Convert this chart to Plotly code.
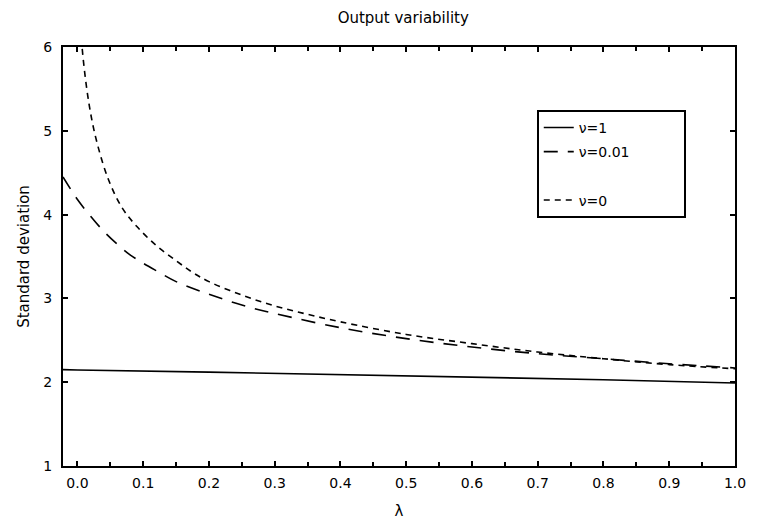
import plotly.graph_objects as go

# Data
lam_nu1 = [-0.022, 0.0, 0.2, 0.4, 0.6, 0.8, 1.0]
sd_nu1 = [2.15, 2.145, 2.12, 2.09, 2.06, 2.03, 1.99]

lam_nu001 = [-0.022, 0.0, 0.02, 0.04, 0.06, 0.08, 0.1, 0.12, 0.15, 0.2, 0.25, 0.3,
             0.4, 0.5, 0.6, 0.7, 0.8, 0.9, 1.0]
sd_nu001 = [4.45, 4.18, 3.98, 3.8, 3.65, 3.52, 3.42, 3.33, 3.2, 3.05, 2.92, 2.82,
            2.65, 2.52, 2.42, 2.34, 2.28, 2.22, 2.17]

lam_nu0 = [0.004, 0.007, 0.018, 0.03, 0.048, 0.068, 0.09, 0.12, 0.15, 0.175, 0.2,
           0.25, 0.3, 0.35, 0.4, 0.5, 0.6, 0.7, 0.8, 0.9, 1.0]
sd_nu0 = [6.5, 6.0, 5.3, 4.85, 4.4, 4.08, 3.86, 3.63, 3.45, 3.31, 3.2,
          3.04, 2.91, 2.81, 2.72, 2.57, 2.46, 2.36, 2.28, 2.21, 2.16]

x_ticks = [0.0, 0.1, 0.2, 0.3, 0.4, 0.5, 0.6, 0.7, 0.8, 0.9, 1.0]
x_tick_labels = ["0.0", "0.1", "0.2", "0.3", "0.4", "0.5", "0.6", "0.7", "0.8", "0.9", "1.0"]
y_ticks = [1, 2, 3, 4, 5, 6]

font = "DejaVu Sans"
pad = "\u00a0" * 11

fig = go.Figure()
fig.add_trace(go.Scatter(x=lam_nu1, y=sd_nu1, mode="lines", name="ν=1", legendgroup="a",
                         line=dict(color="black", width=1.6, dash="solid")))
fig.add_trace(go.Scatter(x=lam_nu001, y=sd_nu001, mode="lines", name="ν=0.01" + pad,
                         legendgroup="b", line_shape="spline",
                         line=dict(color="black", width=1.6, dash="14px,10px")))
fig.add_trace(go.Scatter(x=[None], y=[None], mode="lines", name=" ", legendgroup="c",
                         line=dict(color="rgba(0,0,0,0)", width=0)))
fig.add_trace(go.Scatter(x=lam_nu0, y=sd_nu0, mode="lines", name="ν=0", legendgroup="d",
                         line_shape="spline",
                         line=dict(color="black", width=1.6, dash="6px,5px")))

axis_common = dict(showline=True, linecolor="black", linewidth=2, mirror="allticks",
                   ticks="inside", ticklen=5, tickcolor="black", tickwidth=1.5,
                   showgrid=False, zeroline=False,
                   tickfont=dict(family=font, size=14, color="black"))

fig.update_layout(
    width=758, height=529,
    margin=dict(l=63, r=17, t=47, b=61),
    paper_bgcolor="white", plot_bgcolor="white",
    title=dict(text="Output variability", x=0.532, xanchor="center", y=0.966, yanchor="middle",
               font=dict(family=font, size=15, color="black")),
    xaxis=dict(range=[-0.022, 1.0], tickvals=x_ticks, ticktext=x_tick_labels,
               ticklabelstandoff=3,
               minor=dict(ticks="inside", ticklen=4, dtick=0.05, tick0=0, tickcolor="black"),
               title=dict(text="λ", font=dict(family=font, size=15, color="black"), standoff=16),
               **axis_common),
    yaxis=dict(range=[1, 6], tickvals=y_ticks, ticklabelstandoff=6,
               title=dict(text="Standard deviation", font=dict(family=font, size=15, color="black"),
                          standoff=10),
               **axis_common),
    showlegend=True,
    legend=dict(x=0.705, y=0.85, xanchor="left", yanchor="top",
                bgcolor="white", bordercolor="black", borderwidth=2,
                font=dict(family=font, size=14, color="black"),
                tracegroupgap=3),
)

fig.write_html("out.html")
